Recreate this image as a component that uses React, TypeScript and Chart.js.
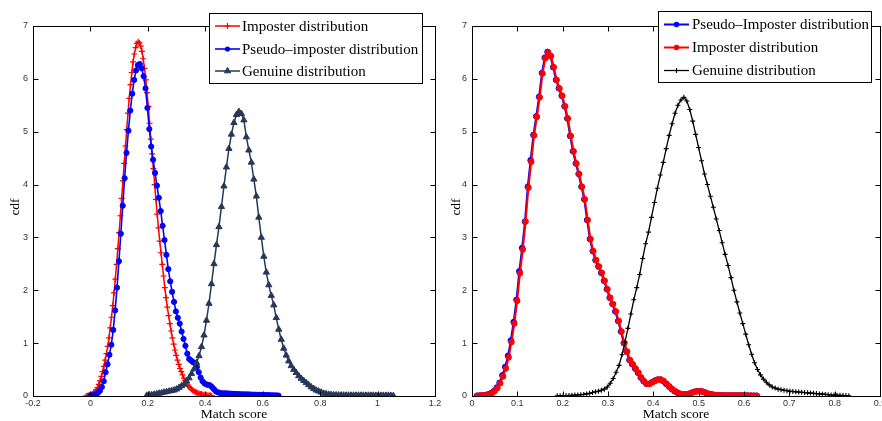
import React, { useEffect, useRef } from "react";
import { Chart, registerables } from "chart.js";
Chart.register(...registerables);

// ---------- Left panel data ----------
const leftImposterRange = [-0.015, 0.4225];
const leftImposterValues = [
  0.002, 0.005, 0.01, 0.02, 0.03, 0.04, 0.06, 0.08, 0.12, 0.16,
  0.22, 0.29, 0.37, 0.46, 0.56, 0.68, 0.80, 0.94, 1.10, 1.29,
  1.49, 1.71, 1.95, 2.21, 2.49, 2.79, 3.09, 3.41, 3.74, 4.07,
  4.40, 4.73, 5.04, 5.35, 5.63, 5.89, 6.12, 6.32, 6.47, 6.59,
  6.67, 6.70, 6.68, 6.62, 6.52, 6.38, 6.20, 5.98, 5.74, 5.48,
  5.16, 4.86, 4.58, 4.30, 4.00, 3.72, 3.44, 3.18, 2.93, 2.71,
  2.49, 2.27, 2.05, 1.86, 1.68, 1.52, 1.37, 1.23, 1.10, 0.98,
  0.87, 0.77, 0.68, 0.60, 0.52, 0.46, 0.40, 0.34, 0.29, 0.25,
  0.21, 0.18, 0.15, 0.13, 0.11, 0.09, 0.075, 0.065, 0.055, 0.046,
  0.039, 0.033, 0.028, 0.023, 0.019, 0.016, 0.013, 0.011, 0.009, 0.007,
];

const leftPseudoRange = [0, 0.655];
const leftPseudoValues = [
  0.01, 0.01, 0.02, 0.03, 0.06, 0.10, 0.17, 0.28, 0.45, 0.60,
  0.78, 0.97, 1.25, 1.62, 2.05, 2.55, 3.07, 3.60, 4.12, 4.60,
  5.02, 5.40, 5.72, 5.98, 6.16, 6.26, 6.28, 6.20, 6.05, 5.82,
  5.45, 5.05, 4.72, 4.47, 4.22, 3.98, 3.75, 3.50, 3.22, 2.95,
  2.67, 2.40, 2.17, 1.97, 1.78, 1.60, 1.48, 1.37, 1.22, 1.08,
  0.95, 0.80, 0.70, 0.67, 0.64, 0.62, 0.55, 0.45, 0.35, 0.28,
  0.24, 0.22, 0.21, 0.20, 0.17, 0.13, 0.09, 0.07, 0.06, 0.05,
  0.05, 0.05, 0.048, 0.045, 0.043, 0.04, 0.04, 0.038, 0.035, 0.033,
  0.032, 0.03, 0.03, 0.03, 0.028, 0.026, 0.025, 0.024, 0.022, 0.02,
  0.02, 0.02, 0.018, 0.016, 0.015, 0.013, 0.012, 0.01, 0.01, 0.008,
];

const leftGenuineRange = [0.196, 1.055];
const leftGenuineValues = [
  0.01, 0.02, 0.02, 0.03, 0.04, 0.05, 0.06, 0.07, 0.08, 0.09,
  0.10, 0.11, 0.13, 0.16, 0.19, 0.22, 0.28, 0.34, 0.42, 0.51,
  0.63, 0.76, 0.93, 1.15, 1.43, 1.75, 2.12, 2.50, 2.86, 3.20,
  3.58, 3.97, 4.33, 4.68, 4.95, 5.17, 5.32, 5.38, 5.34, 5.22,
  4.90, 4.65, 4.42, 4.10, 3.78, 3.38, 3.00, 2.64, 2.34, 2.10,
  1.90, 1.72, 1.48, 1.26, 1.07, 0.90, 0.77, 0.66, 0.57, 0.50,
  0.44, 0.38, 0.33, 0.29, 0.25, 0.21, 0.17, 0.14, 0.11, 0.09,
  0.07, 0.05, 0.04, 0.03, 0.025, 0.02, 0.018, 0.016, 0.015, 0.014,
  0.013, 0.013, 0.012, 0.012, 0.012, 0.012, 0.012, 0.012, 0.011, 0.011,
  0.011, 0.011, 0.01, 0.01, 0.01, 0.01, 0.01, 0.01, 0.008, 0.005,
];

// ---------- Right panel data ----------
const rightPseudoRange = [0.011, 0.6275];
const rightPseudoValues = [
  0.005, 0.008, 0.011, 0.017, 0.032, 0.055, 0.095, 0.16, 0.25, 0.39,
  0.55, 0.76, 1.05, 1.40, 1.82, 2.36, 2.80, 3.30, 3.96, 4.46,
  4.94, 5.29, 5.66, 6.11, 6.40, 6.51, 6.43, 6.22, 5.98, 5.82,
  5.68, 5.48, 5.25, 4.92, 4.63, 4.40, 4.20, 3.96, 3.72, 3.33,
  2.97, 2.74, 2.57, 2.45, 2.33, 2.18, 2.02, 1.86, 1.74, 1.60,
  1.42, 1.22, 1.00, 0.84, 0.68, 0.60, 0.52, 0.44, 0.35, 0.28,
  0.23, 0.23, 0.26, 0.29, 0.31, 0.31, 0.28, 0.23, 0.18, 0.13,
  0.09, 0.06, 0.04, 0.03, 0.03, 0.04, 0.06, 0.08, 0.09, 0.09,
  0.08, 0.06, 0.04, 0.03, 0.02, 0.015, 0.012, 0.01, 0.01, 0.01,
  0.01, 0.01, 0.01, 0.01, 0.01, 0.008, 0.007, 0.006, 0.005, 0.004,
];

const rightImposterRange = [0.0124, 0.6287];
const rightImposterValues = [
  0.005, 0.007, 0.01, 0.015, 0.03, 0.05, 0.09, 0.15, 0.24, 0.37,
  0.52, 0.73, 1.02, 1.37, 1.80, 2.32, 2.77, 3.30, 3.94, 4.43,
  4.93, 5.28, 5.65, 6.10, 6.39, 6.50, 6.43, 6.22, 5.98, 5.82,
  5.68, 5.48, 5.25, 4.92, 4.63, 4.40, 4.20, 3.96, 3.72, 3.33,
  2.97, 2.74, 2.57, 2.45, 2.33, 2.18, 2.02, 1.86, 1.74, 1.60,
  1.42, 1.22, 1.00, 0.84, 0.68, 0.60, 0.52, 0.44, 0.35, 0.28,
  0.23, 0.23, 0.26, 0.29, 0.31, 0.31, 0.28, 0.23, 0.18, 0.13,
  0.09, 0.06, 0.04, 0.03, 0.03, 0.04, 0.06, 0.08, 0.09, 0.09,
  0.08, 0.06, 0.04, 0.03, 0.02, 0.015, 0.012, 0.01, 0.01, 0.01,
  0.01, 0.01, 0.01, 0.01, 0.01, 0.008, 0.007, 0.006, 0.005, 0.004,
];

const rightGenuineRange = [0.188, 0.8312];
const rightGenuineValues = [
  0.005, 0.005, 0.007, 0.008, 0.01, 0.013, 0.017, 0.02, 0.025, 0.03,
  0.04, 0.05, 0.065, 0.08, 0.09, 0.11, 0.13, 0.17, 0.24, 0.33,
  0.45, 0.58, 0.78, 1.02, 1.28, 1.55, 1.82, 2.05, 2.30, 2.60,
  2.88, 3.10, 3.38, 3.66, 3.93, 4.18, 4.42, 4.68, 4.93, 5.15,
  5.35, 5.50, 5.60, 5.65, 5.58, 5.42, 5.20, 4.95, 4.70, 4.45,
  4.20, 4.00, 3.78, 3.57, 3.35, 3.13, 2.90, 2.68, 2.47, 2.24,
  2.00, 1.78, 1.57, 1.37, 1.17, 0.97, 0.79, 0.63, 0.50, 0.40,
  0.32, 0.26, 0.21, 0.17, 0.15, 0.13, 0.12, 0.11, 0.10, 0.09,
  0.085, 0.08, 0.075, 0.07, 0.065, 0.06, 0.055, 0.05, 0.045, 0.04,
  0.035, 0.03, 0.025, 0.02, 0.018, 0.015, 0.012, 0.01, 0.008, 0.005,
];

// ---------- Axis settings ----------
const leftXAxis = { min: -0.2, max: 1.2, step: 0.2 };
const rightXAxis = { min: 0, max: 0.9, step: 0.1 };
const yAxis = { min: 0, max: 7, step: 1 };
const xTitle = "Match score";
const yTitle = "cdf";

const leftLabels = ["Imposter distribution", "Pseudo\u2013imposter distribution", "Genuine distribution"];
const rightLabels = ["Pseudo\u2013Imposter distribution", "Imposter distribution", "Genuine distribution"];

const RED = "#ff0000";
const BLUE = "#0000ff";
const NAVY = "#26385a";
const BLACK = "#000000";

function toPoints(range: number[], values: number[]) {
  const n = values.length;
  return values.map((y, i) => ({ x: range[0] + ((range[1] - range[0]) * i) / (n - 1), y }));
}

type Spec = {
  label: string;
  color: string;
  style: string;
  radius: number;
  lineWidth: number;
  pointBorderWidth: number;
};

function drawMarker(ctx: CanvasRenderingContext2D, style: string, x: number, y: number, r: number, color: string, bw: number) {
  ctx.save();
  ctx.strokeStyle = color;
  ctx.fillStyle = color;
  ctx.lineWidth = bw;
  ctx.beginPath();
  if (style === "circle") {
    ctx.arc(x, y, r, 0, Math.PI * 2);
    ctx.fill();
  } else if (style === "cross") {
    ctx.moveTo(x - r, y);
    ctx.lineTo(x + r, y);
    ctx.moveTo(x, y - r);
    ctx.lineTo(x, y + r);
    ctx.stroke();
  } else if (style === "triangle") {
    const w = r * Math.sin(Math.PI / 3);
    ctx.moveTo(x, y - r);
    ctx.lineTo(x + w, y + r / 2);
    ctx.lineTo(x - w, y + r / 2);
    ctx.closePath();
    ctx.fill();
    ctx.stroke();
  }
  ctx.restore();
}

type LegendCfg = {
  box: [number, number, number, number];
  rows: number[];
  lineX: [number, number];
  textX: number;
};

function makeFramePlugin(specs: Spec[], legend: LegendCfg) {
  return {
    id: "frame",
    afterDraw(chart: any) {
      const { ctx, chartArea: a, scales } = chart;
      const xs = scales.x;
      const ys = scales.y;
      ctx.save();
      ctx.strokeStyle = "#000";
      ctx.lineWidth = 1;
      const L = Math.round(a.left) + 0.5;
      const R = Math.round(a.right) + 0.5;
      const T = Math.round(a.top) + 0.5;
      const B = Math.round(a.bottom) + 0.5;
      ctx.strokeRect(L, T, R - L, B - T);
      const tl = 5;
      ctx.beginPath();
      xs.ticks.forEach((t: any) => {
        const px = Math.round(xs.getPixelForValue(t.value)) + 0.5;
        ctx.moveTo(px, B);
        ctx.lineTo(px, B - tl);
        ctx.moveTo(px, T);
        ctx.lineTo(px, T + tl);
      });
      ys.ticks.forEach((t: any) => {
        const py = Math.round(ys.getPixelForValue(t.value)) + 0.5;
        ctx.moveTo(L, py);
        ctx.lineTo(L + tl, py);
        ctx.moveTo(R, py);
        ctx.lineTo(R - tl, py);
      });
      ctx.stroke();

      ctx.fillStyle = "#000";
      ctx.font = "13.5px 'Liberation Serif', 'Times New Roman', serif";
      ctx.textAlign = "center";
      ctx.textBaseline = "middle";
      ctx.fillText(xTitle, (a.left + a.right) / 2, 414);
      ctx.save();
      ctx.translate(15, (a.top + a.bottom) / 2 - 4);
      ctx.rotate(-Math.PI / 2);
      ctx.fillText(yTitle, 0, 0);
      ctx.restore();

      const [bx, by, bw, bh] = legend.box;
      ctx.fillStyle = "#fff";
      ctx.fillRect(bx, by, bw, bh);
      ctx.strokeStyle = "#000";
      ctx.lineWidth = 1;
      ctx.strokeRect(Math.round(bx) + 0.5, Math.round(by) + 0.5, Math.round(bw), Math.round(bh));
      ctx.font = "15px 'Liberation Serif', 'Times New Roman', serif";
      ctx.textAlign = "left";
      ctx.textBaseline = "middle";
      specs.forEach((s, i) => {
        const y = legend.rows[i];
        ctx.strokeStyle = s.color;
        ctx.lineWidth = s.lineWidth;
        ctx.beginPath();
        ctx.moveTo(legend.lineX[0], y);
        ctx.lineTo(legend.lineX[1], y);
        ctx.stroke();
        drawMarker(ctx, s.style, (legend.lineX[0] + legend.lineX[1]) / 2, y, s.radius, s.color, s.pointBorderWidth);
        ctx.fillStyle = "#000";
        ctx.fillText(s.label, legend.textX, y + 1);
      });
      ctx.restore();
    },
  };
}

function fmt(v: number) {
  return String(Number(v.toFixed(2)));
}

function buildConfig(
  series: { spec: Spec; range: number[]; values: number[] }[],
  xAxis: { min: number; max: number; step: number },
  yWidth: number,
  rightPad: number,
  legend: LegendCfg
) {
  const n = series.length;
  const datasets = series.map((s, i) => ({
    label: s.spec.label,
    data: toPoints(s.range, s.values),
    borderColor: s.spec.color,
    backgroundColor: s.spec.color,
    borderWidth: s.spec.lineWidth,
    pointStyle: s.spec.style,
    pointRadius: s.spec.radius,
    pointBorderWidth: s.spec.pointBorderWidth,
    pointBackgroundColor: s.spec.color,
    pointBorderColor: s.spec.color,
    fill: false,
    tension: 0,
    order: n - i,
  }));
  const tickFont = { family: "'Liberation Sans', Arial, sans-serif", size: 9 };
  return {
    type: "line" as const,
    data: { datasets },
    options: {
      responsive: false,
      animation: false as const,
      devicePixelRatio: 1,
      layout: { autoPadding: false, padding: { left: 0, right: rightPad, top: 26, bottom: 0 } },
      plugins: { legend: { display: false }, tooltip: { enabled: false }, title: { display: false } },
      events: [],
      scales: {
        x: {
          type: "linear" as const,
          min: xAxis.min,
          max: xAxis.max,
          ticks: {
            stepSize: xAxis.step,
            callback: (v: any) => fmt(Number(v)),
            font: tickFont,
            color: "#333",
            padding: 2,
            maxRotation: 0,
            autoSkip: false,
          },
          grid: { display: false, drawTicks: false },
          border: { display: false },
          afterFit: (s: any) => {
            s.height = 25;
            s.paddingLeft = 0;
            s.paddingRight = 0;
          },
        },
        y: {
          type: "linear" as const,
          min: yAxis.min,
          max: yAxis.max,
          ticks: {
            stepSize: yAxis.step,
            callback: (v: any) => fmt(Number(v)),
            font: tickFont,
            color: "#333",
            padding: 5,
          },
          grid: { display: false, drawTicks: false },
          border: { display: false },
          afterFit: (s: any) => {
            s.width = yWidth;
            s.paddingTop = 0;
            s.paddingBottom = 0;
          },
        },
      },
    },
    plugins: [makeFramePlugin(series.map((s) => s.spec), legend)],
  };
}

function Panel({ make }: { make: () => any }) {
  const ref = useRef<HTMLCanvasElement>(null);
  useEffect(() => {
    if (!ref.current) return;
    const chart = new Chart(ref.current, make());
    return () => chart.destroy();
  }, []);
  return <canvas ref={ref} width={441} height={421} style={{ display: "block", width: 441, height: 421 }} />;
}

const leftSpecs: Spec[] = [
  { label: leftLabels[0], color: RED, style: "cross", radius: 3, lineWidth: 1.5, pointBorderWidth: 1.2 },
  { label: leftLabels[1], color: BLUE, style: "circle", radius: 2.6, lineWidth: 1.6, pointBorderWidth: 1 },
  { label: leftLabels[2], color: NAVY, style: "triangle", radius: 3.6, lineWidth: 1.5, pointBorderWidth: 1 },
];
const rightSpecs: Spec[] = [
  { label: rightLabels[0], color: BLUE, style: "circle", radius: 2.8, lineWidth: 2, pointBorderWidth: 1 },
  { label: rightLabels[1], color: RED, style: "circle", radius: 2.8, lineWidth: 2, pointBorderWidth: 1 },
  { label: rightLabels[2], color: BLACK, style: "cross", radius: 2.5, lineWidth: 1.3, pointBorderWidth: 1.1 },
];

const makeLeft = () =>
  buildConfig(
    [
      { spec: leftSpecs[0], range: leftImposterRange, values: leftImposterValues },
      { spec: leftSpecs[1], range: leftPseudoRange, values: leftPseudoValues },
      { spec: leftSpecs[2], range: leftGenuineRange, values: leftGenuineValues },
    ],
    leftXAxis,
    33,
    6,
    { box: [209, 13, 213, 70], rows: [26, 49, 71], lineX: [215, 240], textX: 242 }
  );

const makeRight = () =>
  buildConfig(
    [
      { spec: rightSpecs[0], range: rightPseudoRange, values: rightPseudoValues },
      { spec: rightSpecs[1], range: rightImposterRange, values: rightImposterValues },
      { spec: rightSpecs[2], range: rightGenuineRange, values: rightGenuineValues },
    ],
    rightXAxis,
    31,
    2,
    { box: [217, 11, 213, 71], rows: [24.5, 47.5, 70.5], lineX: [223, 248], textX: 251 }
  );

export default function App() {
  return (
    <div style={{ position: "fixed", left: 0, top: 0, width: 882, height: 421, display: "flex", background: "#fff" }}>
      <Panel make={makeLeft} />
      <Panel make={makeRight} />
    </div>
  );
}
